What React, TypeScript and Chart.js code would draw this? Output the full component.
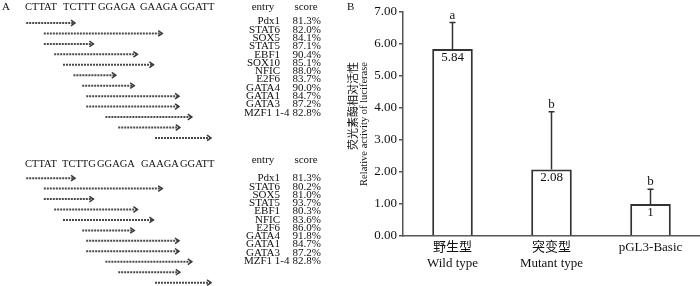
import React, { useEffect, useRef } from 'react';
import { Chart, registerables } from 'chart.js';
Chart.register(...registerables);

const SERIF = "'Liberation Serif', 'Times New Roman', serif";
const SERIF_CJK = "'Liberation Serif', 'Noto Sans CJK SC', serif";
const CJK = "'Noto Sans CJK SC', sans-serif";

// ---------- Panel A data ----------
const seqTop = ['CTTAT', 'TCTTT', 'GGAGA', 'GAAGA', 'GGATT'];
const seqBottom = ['CTTAT', 'TCTTG', 'GGAGA', 'GAAGA', 'GGATT'];
const entriesTop = ['Pdx1', 'STAT6', 'SOX5', 'STAT5', 'EBF1', 'SOX10', 'NFIC', 'E2F6', 'GATA4', 'GATA1', 'GATA3', 'MZF1 1-4'];
const scoresTop = ['81.3%', '82.0%', '84.1%', '87.1%', '90.4%', '85.1%', '88.0%', '83.7%', '90.0%', '84.7%', '87.2%', '82.8%'];
const startsTop = [0.4, 2.6, 2.6, 3.9, 5.0, 6.3, 7.4, 7.9, 7.9, 10.3, 11.9, 16.5];
const endsTop = [6.5, 17.4, 8.8, 14.3, 16.3, 11.6, 13.9, 19.5, 19.5, 21.1, 19.6, 23.5];
const entriesBottom = ['Pdx1', 'STAT6', 'SOX5', 'STAT5', 'EBF1', 'NFIC', 'E2F6', 'GATA4', 'GATA1', 'GATA3', 'MZF1 1-4'];
const scoresBottom = ['81.3%', '80.2%', '81.0%', '93.7%', '80.3%', '83.6%', '86.0%', '91.8%', '84.7%', '87.2%', '82.8%'];
const startsBottom = [0.4, 2.6, 2.6, 3.9, 5.0, 7.4, 7.9, 7.9, 10.3, 11.9, 16.5];
const endsBottom = [6.5, 17.4, 8.8, 14.3, 16.3, 13.9, 19.5, 19.5, 21.1, 19.6, 23.5];

// ---------- Panel B data ----------
const groupLabels = [['野生型', 'Wild type'], ['突变型', 'Mutant type'], ['pGL3-Basic']];
const means = [5.84, 2.08, 1];
const errUpper = [0.83, 1.8, 0.46];
const valueLabels = ['5.84', '2.08', '1'];
const sigLetters = ['a', 'b', 'b'];
const yAxisTitleZh = '荧光素酶相对活性';
const yAxisTitleEn = 'Relative activity of luciferase';

// layout constants (panel A)
const BOTTOM_ROW_OFFSET = 14.85;
const SEQ_X_TOP = [25, 63, 98, 140, 180];
const SEQ_X_BOTTOM = [25, 62, 97, 141, 180];

const panelAText = {
  id: 'panelAText',
  afterDraw(chart: any) {
    const ctx = chart.ctx as CanvasRenderingContext2D;
    ctx.save();
    ctx.fillStyle = '#111';
    ctx.textBaseline = 'alphabetic';
    ctx.textAlign = 'left';
    ctx.font = `11px ${SERIF}`;
    ctx.fillText('A', 2, 10);
    ctx.font = `10.5px ${SERIF}`;
    seqTop.forEach((g, i) => ctx.fillText(g, SEQ_X_TOP[i], 10.3));
    seqBottom.forEach((g, i) => ctx.fillText(g, SEQ_X_BOTTOM[i], 166.5));

    const drawTable = (entries: string[], scores: string[], headerY: number, firstY: number, step: number) => {
      ctx.font = `11px ${SERIF}`;
      ctx.textAlign = 'center';
      ctx.fillText('entry', 263, headerY);
      ctx.fillText('score', 306, headerY);
      entries.forEach((e, k) => {
        const y = firstY + step * k;
        const w = ctx.measureText(e).width;
        const xr = Math.max(280, 244 + w);
        ctx.textAlign = 'right';
        ctx.fillText(e, xr, y);
        ctx.textAlign = 'left';
        ctx.fillText(scores[k], 292.5, y);
      });
    };
    drawTable(entriesTop, scoresTop, 10, 24.3, 8.3);
    drawTable(entriesBottom, scoresBottom, 163, 181.3, 8.25);
    ctx.restore();
  },
  afterDatasetsDraw(chart: any) {
    const ctx = chart.ctx as CanvasRenderingContext2D;
    ctx.save();
    ctx.strokeStyle = '#3a3a3a';
    ctx.lineWidth = 1.5;
    chart.data.datasets.forEach((_: any, di: number) => {
      const meta = chart.getDatasetMeta(di);
      const p = meta.data[1];
      if (!p) return;
      ctx.beginPath();
      ctx.moveTo(p.x - 4, p.y - 2.8);
      ctx.lineTo(p.x, p.y);
      ctx.lineTo(p.x - 4, p.y + 2.8);
      ctx.stroke();
    });
    ctx.restore();
  },
};

const panelBExtras = {
  id: 'panelBExtras',
  afterDatasetsDraw(chart: any) {
    const ctx = chart.ctx as CanvasRenderingContext2D;
    const yScale = chart.scales.y;
    const meta = chart.getDatasetMeta(0);
    ctx.save();
    meta.data.forEach((bar: any, i: number) => {
      const x = bar.x;
      const yMean = bar.y;
      const yErr = yScale.getPixelForValue(means[i] + errUpper[i]);
      ctx.strokeStyle = '#333';
      ctx.lineWidth = 1.5;
      ctx.beginPath();
      ctx.moveTo(x, yMean);
      ctx.lineTo(x, yErr);
      ctx.moveTo(x - 3, yErr);
      ctx.lineTo(x + 3, yErr);
      ctx.stroke();
      ctx.fillStyle = '#111';
      ctx.font = `13px ${SERIF}`;
      ctx.textAlign = 'center';
      ctx.textBaseline = 'alphabetic';
      ctx.fillText(sigLetters[i], x, yErr - 4);
      ctx.textBaseline = 'top';
      ctx.fillText(valueLabels[i], x, yMean + 2);
    });
    ctx.restore();
  },
  afterDraw(chart: any) {
    const ctx = chart.ctx as CanvasRenderingContext2D;
    const area = chart.chartArea;
    const yc = (area.top + area.bottom) / 2;
    ctx.save();
    ctx.fillStyle = '#111';
    ctx.font = `11px ${SERIF}`;
    ctx.textAlign = 'left';
    ctx.textBaseline = 'alphabetic';
    ctx.fillText('B', 7, 10);

    ctx.textBaseline = 'middle';
    // English line
    ctx.save();
    ctx.translate(24.5, yc);
    ctx.rotate(-Math.PI / 2);
    ctx.font = `10.5px ${SERIF}`;
    ctx.textAlign = 'center';
    const enW = ctx.measureText(yAxisTitleEn).width;
    ctx.fillText(yAxisTitleEn, 0, 0);
    ctx.restore();
    // Chinese line, aligned to the top end of the English line
    ctx.save();
    ctx.translate(12.5, yc - enW / 2);
    ctx.rotate(-Math.PI / 2);
    ctx.font = `11px ${CJK}`;
    ctx.textAlign = 'right';
    ctx.fillText(yAxisTitleZh, 0, 0);
    ctx.restore();
    ctx.restore();
  },
};

export default function App() {
  const refA = useRef<HTMLCanvasElement>(null);
  const refB = useRef<HTMLCanvasElement>(null);

  useEffect(() => {
    document.body.style.margin = '0';
    Chart.defaults.font.family = SERIF;

    const arrowStyle = {
      showLine: true,
      borderColor: '#4a4a4a',
      borderWidth: 2,
      borderDash: [2, 1],
      pointRadius: 0,
      pointHoverRadius: 0,
      fill: false,
    };
    const datasetsA = [
      ...startsTop.map((s, i) => ({
        ...arrowStyle,
        data: [{ x: s, y: i }, { x: endsTop[i], y: i }],
      })),
      ...startsBottom.map((s, i) => ({
        ...arrowStyle,
        data: [{ x: s, y: BOTTOM_ROW_OFFSET + i }, { x: endsBottom[i], y: BOTTOM_ROW_OFFSET + i }],
      })),
    ];

    const chartA = new Chart(refA.current!, {
      type: 'scatter',
      data: { datasets: datasetsA as any },
      options: {
        responsive: false,
        animation: false,
        events: [],
        layout: { padding: 0 },
        plugins: { legend: { display: false }, tooltip: { enabled: false } },
        scales: {
          x: { type: 'linear', display: false, min: -2.875, max: 39.625 },
          y: { type: 'linear', display: false, reverse: true, min: -2.2, max: 25.17 },
        },
      },
      plugins: [panelAText],
    });

    const chartB = new Chart(refB.current!, {
      type: 'bar',
      data: {
        labels: groupLabels as any,
        datasets: [
          {
            data: means,
            backgroundColor: '#ffffff',
            borderColor: '#333',
            borderWidth: 2,
            barPercentage: 0.41,
            categoryPercentage: 1,
          },
        ],
      },
      options: {
        responsive: false,
        animation: false,
        events: [],
        layout: { padding: { top: 12, left: 0, right: 0, bottom: 0 } },
        plugins: { legend: { display: false }, tooltip: { enabled: false } },
        scales: {
          x: {
            grid: { display: false, drawTicks: false },
            border: { display: true, color: '#555', width: 1.5 },
            ticks: {
              font: { family: SERIF_CJK, size: 13, lineHeight: 1.25 },
              color: '#111',
              padding: 3,
              maxRotation: 0,
              autoSkip: false,
            },
            afterFit: (s: any) => {
              s.height = 50;
            },
          },
          y: {
            min: 0,
            max: 7,
            ticks: {
              stepSize: 1,
              callback: (v: any) => Number(v).toFixed(2),
              font: { family: SERIF, size: 13 },
              color: '#111',
              padding: 2,
            },
            grid: {
              display: true,
              drawOnChartArea: false,
              drawTicks: true,
              tickLength: 4,
              color: '#555',
              lineWidth: 1.5,
            },
            border: { display: true, color: '#555', width: 1.5 },
            afterFit: (s: any) => {
              s.width = 63;
            },
          },
        },
      },
      plugins: [panelBExtras],
    });

    return () => {
      chartA.destroy();
      chartB.destroy();
    };
  }, []);

  return (
    <div style={{ position: 'relative', width: 700, height: 286, background: '#fff' }}>
      <canvas ref={refA} width={340} height={286} style={{ position: 'absolute', left: 0, top: 0 }} />
      <canvas ref={refB} width={360} height={286} style={{ position: 'absolute', left: 340, top: 0 }} />
    </div>
  );
}
